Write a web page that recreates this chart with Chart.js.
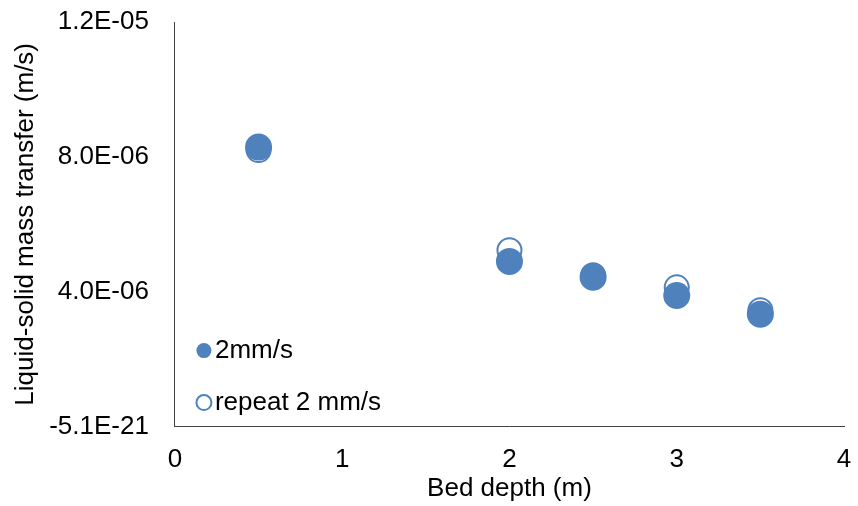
<!DOCTYPE html>
<html>
<head>
<meta charset="utf-8">
<script src="https://cdn.jsdelivr.net/npm/chart.js@4"></script>
<style>
  html, body { margin: 0; padding: 0; background: #fff; }
  #wrap { width: 858px; height: 506px; }
</style>
</head>
<body>
<div id="wrap"><canvas id="massChart" width="858" height="506"></canvas></div>
<script>
// data
const bedDepth = [0.5, 2, 2.5, 3, 3.5];
const run2mm = [8.29e-6, 4.90e-6, 4.43e-6, 3.89e-6, 3.33e-6];
const repeat2mm = [8.20e-6, 5.23e-6, 4.49e-6, 4.13e-6, 3.45e-6];
const yTickValues = [0, 4e-6, 8e-6, 1.2e-5];
const yTickLabels = ['-5.1E-21', '4.0E-06', '8.0E-06', '1.2E-05'];
const xTickValues = [0, 1, 2, 3, 4];

const blue = '#4F81BD';
const font = { family: 'Liberation Sans, Arial, sans-serif', size: 26 };

const toPoints = (ys) => bedDepth.map((x, i) => ({ x: x, y: ys[i] }));

// legend drawn inside the plot area, bottom-left, like the original
const innerLegend = {
    id: 'innerLegend',
    afterDraw(chart) {
        const ctx = chart.ctx;
        const area = chart.chartArea;
        const rows = [area.bottom - 76, area.bottom - 24];
        ctx.save();
        ctx.font = font.size + 'px ' + font.family;
        ctx.textBaseline = 'middle';
        chart.data.datasets.forEach((ds, i) => {
            const y = rows[i];
            const x = area.left + 29;
            ctx.beginPath();
            ctx.arc(x, y, 7.5, 0, Math.PI * 2);
            if (ds.pointStyleFill) {
                ctx.fillStyle = blue;
                ctx.fill();
            } else {
                ctx.lineWidth = 2;
                ctx.strokeStyle = blue;
                ctx.stroke();
            }
            ctx.fillStyle = '#000';
            ctx.fillText(ds.label, x + 11, y);
        });
        ctx.restore();
    }
};

new Chart(document.getElementById('massChart').getContext('2d'), {
    type: 'scatter',
    data: {
        datasets: [{
            label: '2mm/s',
            data: toPoints(run2mm),
            pointRadius: 13.5,
            pointHoverRadius: 13.5,
            backgroundColor: blue,
            borderColor: blue,
            borderWidth: 0,
            pointStyleFill: true
        }, {
            label: 'repeat 2 mm/s',
            data: toPoints(repeat2mm),
            pointRadius: 12,
            pointHoverRadius: 12,
            backgroundColor: 'rgba(255,255,255,0)',
            borderColor: blue,
            borderWidth: 2,
            pointStyleFill: false
        }]
    },
    options: {
        responsive: false,
        animation: false,
        layout: { padding: { top: 22, right: 10, left: 10, bottom: 2 } },
        plugins: {
            legend: { display: false },
            tooltip: { enabled: false }
        },
        scales: {
            x: {
                type: 'linear',
                min: 0,
                max: 4,
                afterBuildTicks: (axis) => { axis.ticks = xTickValues.map(v => ({ value: v })); },
                afterFit: (axis) => { axis.paddingLeft = 0; axis.paddingRight = 0; },
                grid: { display: false, drawTicks: false },
                border: { display: true, color: '#404040', width: 1 },
                ticks: { color: '#000', font: font, padding: 18, maxRotation: 0 },
                title: {
                    display: true,
                    text: 'Bed depth (m)',
                    color: '#000',
                    font: font,
                    padding: { top: -21, bottom: 0 }
                }
            },
            y: {
                type: 'linear',
                min: 0,
                max: 1.2e-5,
                afterBuildTicks: (axis) => { axis.ticks = yTickValues.map(v => ({ value: v })); },
                afterFit: (axis) => { axis.paddingTop = 0; axis.paddingBottom = 0; },
                grid: { display: false, drawTicks: false },
                border: { display: true, color: '#404040', width: 1 },
                ticks: {
                    color: '#000',
                    font: font,
                    padding: 26,
                    callback: (value) => yTickLabels[yTickValues.indexOf(value)]
                },
                title: {
                    display: true,
                    text: 'Liquid-solid mass transfer (m/s)',
                    color: '#000',
                    font: font,
                    padding: { top: 0, bottom: -18 }
                }
            }
        }
    },
    plugins: [innerLegend]
});
</script>
</body>
</html>
